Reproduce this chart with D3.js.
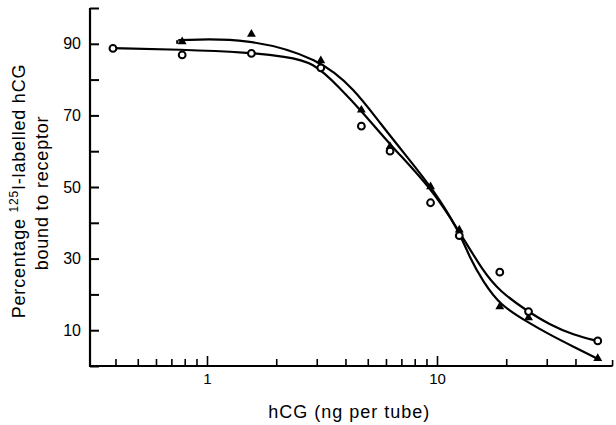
<!DOCTYPE html>
<html>
<head>
<meta charset="utf-8">
<script src="https://cdn.jsdelivr.net/npm/d3@7"></script>
<style>
    body { margin: 0; background: #fff; }
    svg { font-family: "Liberation Sans", Arial, Helvetica, sans-serif; }
</style>
</head>
<body>
<div id="chart"></div>
<script>
// open circles (ng per tube, % bound)
var circleDoses = [0.39, 0.78, 1.56, 3.125, 4.69, 6.25, 9.375, 12.5, 18.75, 25, 50]
var circleVals = [88.7, 86.9, 87.3, 83.3, 67, 60, 45.6, 36.4, 26.2, 15.2, 7.0]

// filled triangles
var triDoses = [0.78, 1.56, 3.125, 4.69, 6.25, 9.375, 12.5, 18.75, 25, 50]
var triVals = [90.6, 92.7, 85.3, 71.5, 61.3, 50.1, 38, 16.6, 13.5, 2.1]

// fitted curves
var circleCurveX = [0.386, 0.763, 1.507, 2.2, 2.89, 3.79, 4.66, 6.35, 9.32, 12.4, 15.9, 18.8, 24.6, 31.0, 39.2, 49.6]
var circleCurveY = [88.8, 88.4, 87.6, 86.4, 85.0, 77.6, 71.5, 61.3, 50.1, 38, 26.3, 20.8, 15.4, 11.5, 8.7, 7.0]
var triCurveX = [0.75, 1.49, 3.10, 4.40, 5.66, 7.39, 9.65, 12.4, 13.9, 15.9, 18.8, 24.6, 31.0, 39.2, 49.6]
var triCurveY = [91, 91.7, 85.9, 77.1, 67.8, 58.5, 49.2, 38, 30.1, 23.5, 17.0, 12.4, 8.7, 5.4, 2.1]

// axis ticks
var yTicks = [0, 10, 20, 30, 40, 50, 60, 70, 80, 90, 100]
var yLabels = [10, 30, 50, 70, 90]
var xTicks = [0.4, 0.5, 0.6, 0.7, 0.8, 0.9, 1, 2, 3, 4, 5, 6, 7, 8, 9, 10, 20, 30, 40]
var xLabels = [1, 10]
var xExtent = [0.31, 58]

var width = 616,
    height = 425

var svg = d3.select('#chart')
    .append('svg')
    .attr('width', width)
    .attr('height', height)

var x = d3.scaleLog()
    .domain([1, 10])
    .range([207, 437])

var y = d3.scaleLinear()
    .domain([0, 100])
    .range([366, 8])

// y axis, ticks pointing inward
var yAxis = d3.axisLeft(y)
    .tickValues(yTicks)
    .tickSize(-9)
    .tickPadding(9)
    .tickFormat(function(d) {
        return yLabels.indexOf(d) >= 0 ? d : ''
    })

svg.append('g')
    .attr('transform', 'translate(' + x(xExtent[0]) + ',0)')
    .call(yAxis)
    .call(function(g) {
        g.select('.domain').remove()
        g.selectAll('.tick line').attr('stroke', '#000').attr('stroke-width', 2)
        g.selectAll('text').attr('font-size', 16).attr('fill', '#000').attr('font-family', null)
    })

svg.append('line')
    .attr('x1', x(xExtent[0])).attr('x2', x(xExtent[0]))
    .attr('y1', y(100)).attr('y2', y(0) + 1)
    .attr('stroke', '#000')
    .attr('stroke-width', 2.2)

// x axis
var xAxis = d3.axisBottom(x)
    .tickValues(xTicks)
    .tickSize(-6)
    .tickPadding(7)
    .tickFormat(function(d) {
        return xLabels.indexOf(d) >= 0 ? d : ''
    })

svg.append('g')
    .attr('transform', 'translate(0,' + y(0) + ')')
    .call(xAxis)
    .call(function(g) {
        g.select('.domain').remove()
        g.selectAll('.tick line')
            .attr('stroke', '#000')
            .attr('stroke-width', 1.6)
            .attr('y2', function(d) { return xLabels.indexOf(d) >= 0 ? -10 : -7 })
        g.selectAll('text').attr('font-size', 15).attr('fill', '#000').attr('font-family', null)
    })

svg.append('line')
    .attr('x1', x(xExtent[0]) - 1).attr('x2', x(xExtent[1]))
    .attr('y1', y(0)).attr('y2', y(0))
    .attr('stroke', '#000')
    .attr('stroke-width', 2.2)

// little upturn at the right end of the axis
svg.append('line')
    .attr('x1', x(xExtent[1])).attr('x2', x(xExtent[1]))
    .attr('y1', y(0)).attr('y2', y(0) - 6)
    .attr('stroke', '#000')
    .attr('stroke-width', 1.6)

// fitted curves
var line = d3.line()
    .x(function(d) { return x(d[0]) })
    .y(function(d) { return y(d[1]) })
    .curve(d3.curveBasis)

svg.append('path')
    .datum(d3.zip(circleCurveX, circleCurveY))
    .attr('d', line)
    .attr('fill', 'none')
    .attr('stroke', '#000')
    .attr('stroke-width', 2.2)

svg.append('path')
    .datum(d3.zip(triCurveX, triCurveY))
    .attr('d', line)
    .attr('fill', 'none')
    .attr('stroke', '#000')
    .attr('stroke-width', 2.2)

// small hook at the start of the triangle curve
svg.append('path')
    .datum([[triCurveX[0], triCurveY[0]], [triCurveX[0], triCurveY[0] - 1]])
    .attr('d', d3.line().x(function(d) { return x(d[0]) - 1 }).y(function(d) { return y(d[1]) }))
    .attr('stroke', '#000')
    .attr('stroke-width', 2.2)

// triangles
svg.append('g')
    .selectAll('path')
    .data(d3.zip(triDoses, triVals))
    .enter()
    .append('path')
    .attr('d', d3.symbol().type(d3.symbolTriangle).size(34))
    .attr('transform', function(d) {
        return 'translate(' + x(d[0]) + ',' + y(d[1]) + ')'
    })
    .attr('fill', '#000')

// open circles
svg.append('g')
    .selectAll('circle')
    .data(d3.zip(circleDoses, circleVals))
    .enter()
    .append('circle')
    .attr('cx', function(d) { return x(d[0]) })
    .attr('cy', function(d) { return y(d[1]) })
    .attr('r', 3.4)
    .attr('fill', '#fff')
    .attr('stroke', '#000')
    .attr('stroke-width', 2)

// axis titles
svg.append('text')
    .attr('x', (x(xExtent[0]) + x(xExtent[1])) / 2 - 2)
    .attr('y', 418)
    .attr('text-anchor', 'middle')
    .attr('font-size', 18)
    .attr('letter-spacing', 1)
    .text('hCG (ng per tube)')

var yTitle = svg.append('text')
    .attr('transform', 'rotate(-90)')
    .attr('text-anchor', 'middle')
    .attr('font-size', 18)
    .attr('letter-spacing', 0.8)

var t1 = yTitle.append('tspan')
    .attr('x', -191)
    .attr('y', 25)
t1.append('tspan').text('Percentage ')
t1.append('tspan').attr('font-size', 12).attr('dy', -7).text('125')
t1.append('tspan').attr('dy', 7).text('I-labelled hCG')

yTitle.append('tspan')
    .attr('x', -193)
    .attr('y', 48)
    .text('bound to receptor')
</script>
</body>
</html>
